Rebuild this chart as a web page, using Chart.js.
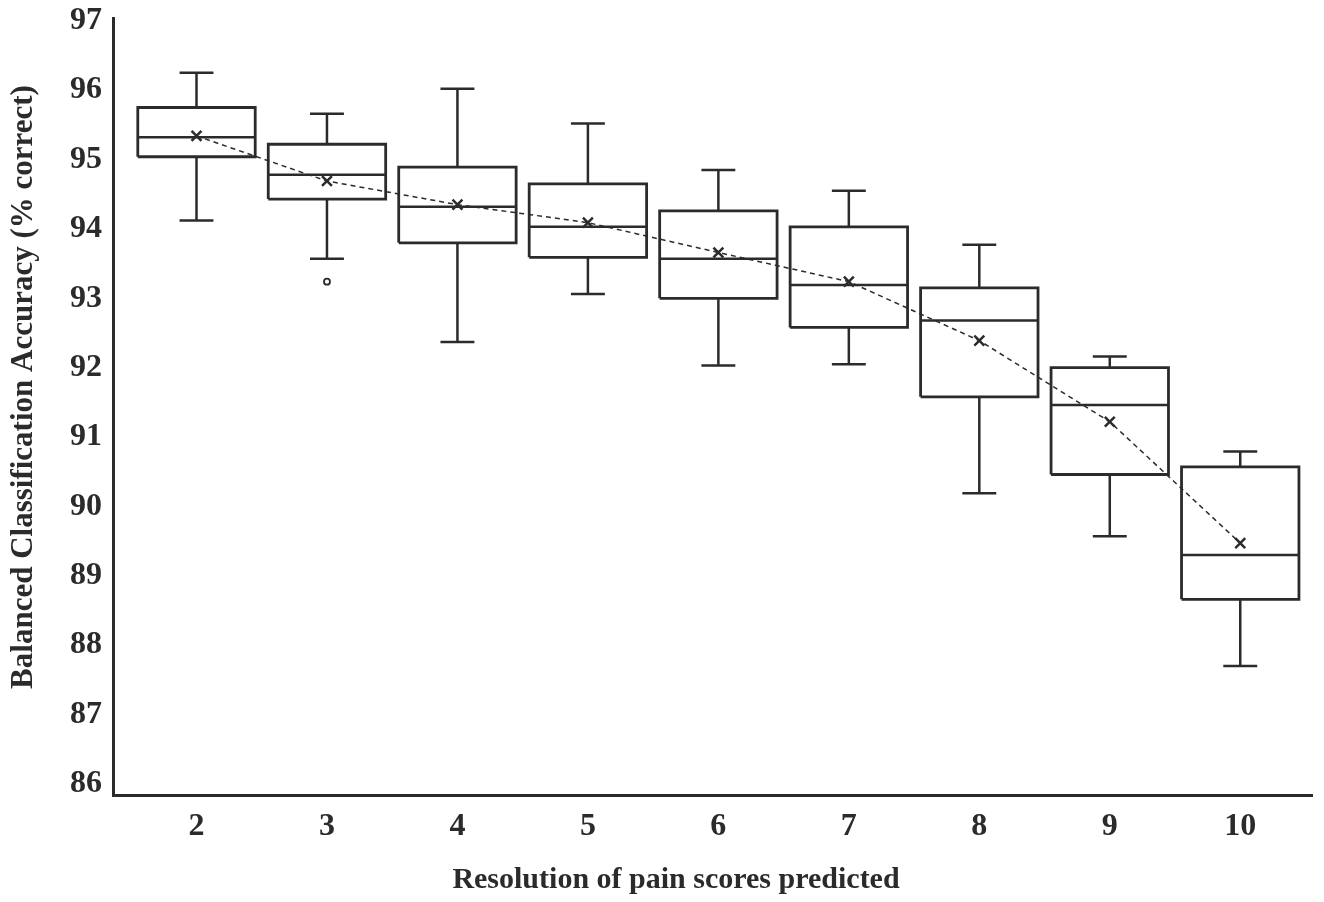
<!DOCTYPE html>
<html lang="en">
<head>
  <meta charset="UTF-8" />
  <title>Balanced Classification Accuracy</title>
  <script src="https://cdn.jsdelivr.net/npm/chart.js"></script>
  <style>
    body { margin: 0; background: #fff; }
    #wrap { width: 1324px; height: 902px; }
  </style>
</head>
<body>
  <div id="wrap"><canvas id="boxChart"></canvas></div>

  <script>
    // values (percent correct)
    const resolutions = [2, 3, 4, 5, 6, 7, 8, 9, 10];
    const whiskerMax = [96.25, 95.66, 96.02, 95.52, 94.85, 94.55, 93.77, 92.16, 90.79];
    const q3         = [95.75, 95.22, 94.89, 94.65, 94.26, 94.03, 93.15, 92.00, 90.57];
    const medians    = [95.32, 94.78, 94.32, 94.03, 93.57, 93.19, 92.68, 91.46, 89.30];
    const q1         = [95.04, 94.43, 93.80, 93.59, 93.00, 92.58, 91.58, 90.46, 88.66];
    const whiskerMin = [94.12, 93.57, 92.37, 93.06, 92.03, 92.05, 90.19, 89.57, 87.70];
    const means      = [95.34, 94.69, 94.35, 94.09, 93.66, 93.24, 92.39, 91.22, 89.47];
    const outlierX   = [3];
    const outlierY   = [93.24];
    const yTicks     = [86, 87, 88, 89, 90, 91, 92, 93, 94, 95, 96, 97];

    const ink = "#2b2b2b";
    const boxHalf = 0.45;   // half box width, in x units
    const capHalf = 0.13;   // half whisker cap width

    const gap = x => ({ x: x, y: null });

    const boxPts = [], medPts = [], whiskPts = [], capPts = [];
    resolutions.forEach((c, i) => {
      boxPts.push({ x: c - boxHalf, y: q1[i] }, { x: c + boxHalf, y: q1[i] },
                  { x: c + boxHalf, y: q3[i] }, { x: c - boxHalf, y: q3[i] },
                  { x: c - boxHalf, y: q1[i] }, gap(c));
      medPts.push({ x: c - boxHalf, y: medians[i] }, { x: c + boxHalf, y: medians[i] }, gap(c));
      whiskPts.push({ x: c, y: q3[i] }, { x: c, y: whiskerMax[i] }, gap(c),
                    { x: c, y: q1[i] }, { x: c, y: whiskerMin[i] }, gap(c));
      capPts.push({ x: c - capHalf, y: whiskerMax[i] }, { x: c + capHalf, y: whiskerMax[i] }, gap(c),
                  { x: c - capHalf, y: whiskerMin[i] }, { x: c + capHalf, y: whiskerMin[i] }, gap(c));
    });
    const meanPts = resolutions.map((c, i) => ({ x: c, y: means[i] }));
    const outPts = outlierX.map((c, i) => ({ x: c, y: outlierY[i] }));

    const lineSet = (data, width) => ({
      data: data, showLine: true, spanGaps: false, pointRadius: 0,
      borderColor: ink, borderWidth: width, fill: false
    });

    // axis titles placed like the original figure
    const axisTitles = {
      id: "axisTitles",
      afterDraw(chart) {
        const ctx = chart.ctx;
        ctx.save();
        ctx.fillStyle = ink;
        ctx.textAlign = "center";
        ctx.textBaseline = "middle";
        ctx.font = "bold 30px 'Liberation Serif'";
        ctx.fillText("Resolution of pain scores predicted", 676, 880);
        ctx.font = "bold 31px 'Liberation Serif'";
        ctx.translate(24, 387);
        ctx.rotate(-Math.PI / 2);
        ctx.fillText("Balanced Classification Accuracy (% correct)", 0, 0);
        ctx.restore();
      }
    };

    new Chart(document.getElementById("boxChart"), {
      type: "scatter",
      data: {
        datasets: [
          { data: meanPts, pointStyle: "crossRot", pointRadius: 7, borderColor: ink,
            borderWidth: 2.5, backgroundColor: ink, showLine: false },
          { data: meanPts, showLine: true, pointRadius: 0, borderColor: ink,
            borderWidth: 1.5, borderDash: [5, 4], fill: false },
          { data: outPts, pointStyle: "circle", pointRadius: 3, borderColor: ink,
            borderWidth: 1.8, backgroundColor: "#fff" },
          lineSet(medPts, 2.5),
          lineSet(boxPts, 2.8),
          lineSet(capPts, 2.5),
          lineSet(whiskPts, 2.5)
        ]
      },
      options: {
        responsive: true,
        maintainAspectRatio: false,
        animation: false,
        layout: { padding: { top: 18, right: 12, left: 0, bottom: 0 } },
        plugins: { legend: { display: false }, tooltip: { enabled: false } },
        scales: {
          x: {
            type: "linear",
            min: 1.36,
            max: 10.55,
            afterBuildTicks: s => { s.ticks = resolutions.map(v => ({ value: v })); },
            afterFit: s => { s.height = 107; s.paddingLeft = 0; s.paddingRight = 0; },
            grid: { display: false, drawTicks: false },
            border: { display: true, color: ink, width: 3 },
            ticks: { color: ink, padding: 13, font: { family: "Liberation Serif", size: 32, weight: "bold" } }
          },
          y: {
            min: 85.84,
            max: 97.04,
            afterBuildTicks: s => { s.ticks = yTicks.map(v => ({ value: v })); },
            afterFit: s => { s.width = 113; s.paddingTop = 0; s.paddingBottom = 0; },
            grid: { display: false, drawTicks: false },
            border: { display: true, color: ink, width: 3 },
            ticks: { color: ink, padding: 11, font: { family: "Liberation Serif", size: 32, weight: "bold" } }
          }
        }
      },
      plugins: [axisTitles]
    });
  </script>
</body>
</html>
